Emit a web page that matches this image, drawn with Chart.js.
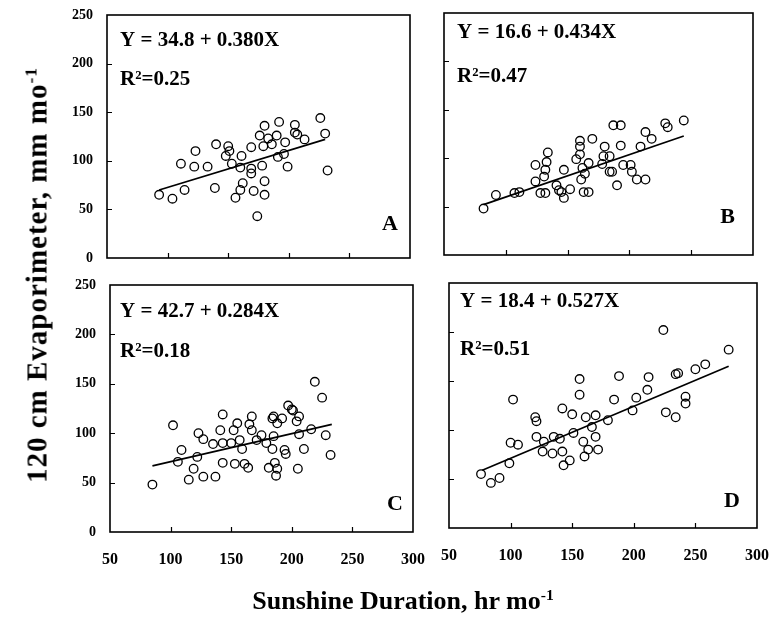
<!DOCTYPE html>
<html>
<head>
<meta charset="utf-8">
<script src="https://cdn.jsdelivr.net/npm/chart.js@4.4.1/dist/chart.umd.min.js"></script>
<style>
  html, body { margin:0; padding:0; background:#fff; }
  #wrap { position:relative; width:772px; height:621px; overflow:hidden; background:#fff; }
  canvas { position:absolute; left:0; top:0; }
  .ttl { position:absolute; white-space:nowrap; font-family:"Liberation Serif","Times New Roman",serif; font-weight:bold; color:#000; line-height:1; }
  .ttl sup { font-size:0.6em; vertical-align:0; position:relative; top:-0.6em; }
  #ytitle { left:37px; top:275px; font-size:29px; letter-spacing:1px; transform:translate(-50%,-50%) rotate(-90deg); }
  #xtitle { left:403px; top:588px; font-size:26px; transform:translateX(-50%); }
</style>
</head>
<body>
<div id="wrap">
  <canvas id="cA" width="772" height="621"></canvas>
  <canvas id="cB" width="772" height="621"></canvas>
  <canvas id="cC" width="772" height="621"></canvas>
  <canvas id="cD" width="772" height="621"></canvas>
  <div class="ttl" id="ytitle">120 cm Evaporimeter, mm mo<sup>-1</sup></div>
  <div class="ttl" id="xtitle">Sunshine Duration, hr mo<sup>-1</sup></div>
</div>
<script>
// ---------------- data ----------------
const xTicks = [50, 100, 150, 200, 250, 300];
const yTicks = [0, 50, 100, 150, 200, 250];

// Panel A
const aX = [93,104,111,114,123,122,133,140,139,150,151,148,153,161,160,162,160,156,169,169,169,171,174,176,180,179,178,180,180,183,186,190,192,191,196,197,199,205,205,207,213,226,230,232];
const aY = [65,61,97,70,110,94,94,117,72,115,110,105,97,105,93,77,70,62,114,92,87,69,43,126,136,115,95,79,65,123,117,126,140,104,107,119,94,137,129,127,122,144,128,90];
const aLineX = [93, 230];
const aLineY = [70, 122];

// Panel B
const bX = [82,92,107,111,124,124,128,132,131,132,133,134,141,143,145,147,147,152,157,160,160,160,161,162,164,163,167,167,170,178,180,179,184,184,186,187,193,190,193,195,201,202,206,213,209,213,218,229,231,244];
const bY = [48,62,64,65,76,93,64,64,81,88,96,106,72,67,65,59,88,68,99,118,112,104,78,90,84,65,65,95,120,94,112,102,102,86,86,134,134,72,113,93,93,86,78,78,112,127,120,136,132,139];
const bLineX = [82, 244];
const bLineY = [52, 123];

// Panel C
const cX = [85,102,106,109,119,115,122,123,127,127,135,137,143,143,141,143,150,152,155,153,157,159,161,164,165,167,167,171,175,179,181,184,185,185,184,186,187,188,188,192,194,195,197,200,201,204,206,205,206,210,216,219,225,228,232];
const cY = [48,108,71,83,64,53,76,100,56,94,89,56,119,70,103,90,90,103,110,69,93,84,69,65,109,117,103,93,98,90,65,115,117,97,84,70,57,64,110,115,83,79,128,124,123,112,117,64,99,84,104,152,136,98,78];
const cLineX = [85, 233];
const cLineY = [67, 109];

// Panel D
const dX = [76,84,91,99,100,106,102,120,121,121,126,127,134,135,140,142,142,143,148,150,151,156,156,159,160,161,163,166,169,169,171,179,184,188,199,202,211,212,224,226,234,234,236,242,242,250,258,277];
const dY = [55,46,51,66,87,85,131,113,109,93,78,88,76,93,91,122,78,64,69,116,97,152,136,88,73,113,80,103,115,93,80,110,131,155,120,133,141,154,202,118,113,157,158,134,127,162,167,182];
const dLineX = [77, 277];
const dLineY = [59, 165];

const eqTexts = ['Y = 34.8 + 0.380X', 'Y = 16.6 + 0.434X', 'Y = 42.7 + 0.284X', 'Y = 18.4 + 0.527X'];
const r2Texts = ['R\u00B2=0.25', 'R\u00B2=0.47', 'R\u00B2=0.18', 'R\u00B2=0.51'];
const letters = ['A', 'B', 'C', 'D'];

// ---------------- helpers ----------------
const SERIF = '"Liberation Serif", "Times New Roman", serif';
const Y_AXIS_W = 40, X_AXIS_H = 45;
function pts(xs, ys) { return xs.map((v, i) => ({ x: v, y: ys[i] })); }

function decoPlugin(cfg) {
  return {
    id: 'panelDeco' + cfg.letter,
    afterDraw(chart) {
      const ctx = chart.ctx, a = chart.chartArea;
      const xs = chart.scales.x, ys = chart.scales.y;
      ctx.save();
      ctx.strokeStyle = '#000';
      ctx.lineWidth = 1.6;
      ctx.strokeRect(a.left, a.top, a.right - a.left, a.bottom - a.top);
      ctx.lineWidth = 1.2;
      ctx.beginPath();
      xs.ticks.forEach(t => {
        if (t.value > xs.min && t.value < xs.max) {
          const p = Math.round(xs.getPixelForValue(t.value)) + 0.5;
          ctx.moveTo(p, a.bottom); ctx.lineTo(p, a.bottom - 5);
        }
      });
      ys.ticks.forEach(t => {
        if (t.value > ys.min && t.value < ys.max) {
          const p = Math.round(ys.getPixelForValue(t.value)) + 0.5;
          ctx.moveTo(a.left, p); ctx.lineTo(a.left + 5, p);
        }
      });
      ctx.stroke();
      ctx.fillStyle = '#000';
      ctx.textBaseline = 'alphabetic';
      ctx.textAlign = 'left';
      ctx.font = 'bold 21px ' + SERIF;
      ctx.fillText(cfg.eq, a.left + cfg.dx, a.top + cfg.eqY);
      ctx.fillText(cfg.r2, a.left + cfg.dx, a.top + cfg.r2Y);
      ctx.textAlign = 'right';
      ctx.font = 'bold 22px ' + SERIF;
      ctx.fillText(cfg.letter, a.right - cfg.lx, a.bottom - cfg.ly);
      ctx.restore();
    }
  };
}

function makeChart(id, xs, ys, lx, ly, box, showX, showY, deco) {
  new Chart(document.getElementById(id), {
    type: 'scatter',
    data: {
      datasets: [
        {
          data: pts(xs, ys),
          showLine: false,
          pointStyle: 'circle',
          pointRadius: 4.3,
          pointBorderWidth: 1.3,
          pointBorderColor: '#000',
          pointBackgroundColor: 'rgba(255,255,255,0)'
        },
        {
          type: 'line',
          data: pts(lx, ly),
          borderColor: '#000',
          borderWidth: 1.7,
          pointRadius: 0,
          fill: false,
          tension: 0
        }
      ]
    },
    options: {
      responsive: false,
      animation: false,
      devicePixelRatio: 1,
      events: [],
      layout: { padding: { left: box.l - Y_AXIS_W, top: box.t, right: 772 - box.r, bottom: 621 - box.b - X_AXIS_H } },
      plugins: { legend: { display: false }, tooltip: { enabled: false } },
      scales: {
        x: {
          type: 'linear', min: xTicks[0], max: xTicks[xTicks.length - 1],
          grid: { display: false, drawTicks: false },
          border: { display: false },
          afterBuildTicks: s => { s.ticks = xTicks.map(v => ({ value: v })); },
          ticks: {
            display: showX, padding: 18, autoSkip: false, maxRotation: 0, color: '#000',
            font: { family: SERIF, weight: 'bold', size: 16 }
          },
          afterFit: s => { s.height = X_AXIS_H; s.paddingLeft = 0; s.paddingRight = 0; }
        },
        y: {
          type: 'linear', min: yTicks[0], max: yTicks[yTicks.length - 1],
          grid: { display: false, drawTicks: false },
          border: { display: false },
          afterBuildTicks: s => { s.ticks = yTicks.map(v => ({ value: v })); },
          ticks: {
            display: showY, padding: 14, autoSkip: false, color: '#000',
            font: { family: SERIF, weight: 'bold', size: 14 }
          },
          afterFit: s => { s.width = Y_AXIS_W; s.paddingTop = 0; s.paddingBottom = 0; }
        }
      }
    },
    plugins: [decoPlugin(deco)]
  });
}

makeChart('cA', aX, aY, aLineX, aLineY, { l: 107, r: 410, t: 15, b: 258 }, false, true,
  { eq: eqTexts[0], r2: r2Texts[0], letter: letters[0], dx: 13, eqY: 31, r2Y: 70, lx: 12, ly: 28 });
makeChart('cB', bX, bY, bLineX, bLineY, { l: 444, r: 753, t: 13, b: 255 }, false, false,
  { eq: eqTexts[1], r2: r2Texts[1], letter: letters[1], dx: 13, eqY: 25, r2Y: 69, lx: 18, ly: 32 });
makeChart('cC', cX, cY, cLineX, cLineY, { l: 110, r: 413, t: 285, b: 532 }, true, true,
  { eq: eqTexts[2], r2: r2Texts[2], letter: letters[2], dx: 10, eqY: 32, r2Y: 72, lx: 10, ly: 22 });
makeChart('cD', dX, dY, dLineX, dLineY, { l: 449, r: 757, t: 283, b: 528 }, true, false,
  { eq: eqTexts[3], r2: r2Texts[3], letter: letters[3], dx: 11, eqY: 24, r2Y: 72, lx: 17, ly: 21 });
</script>
</body>
</html>
